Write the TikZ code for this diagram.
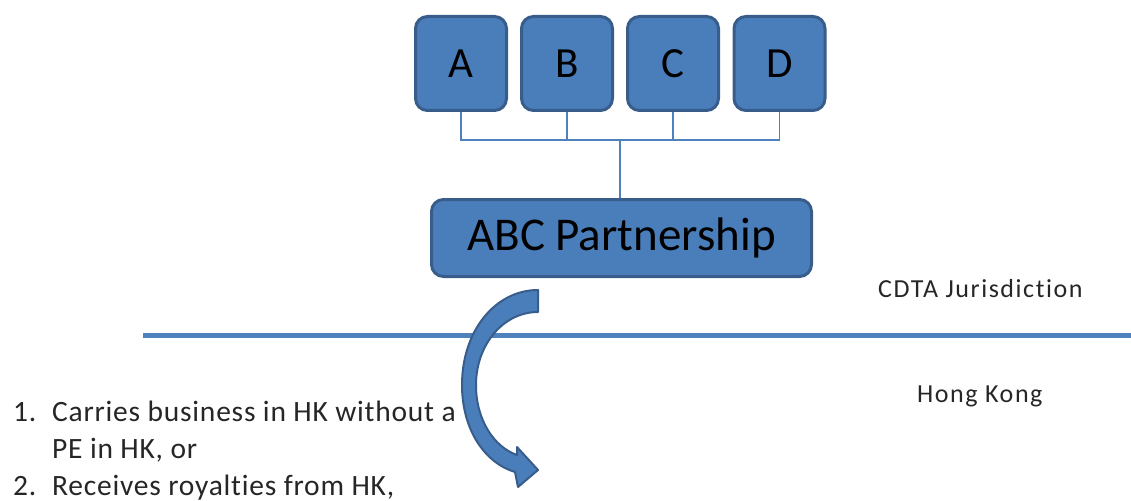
\documentclass[tikz,border=0pt]{standalone}
\usepackage{fontspec}
\setmainfont{Carlito}
\newfontfamily\listfont[LetterSpace=2.6,Ligatures=NoCommon]{Carlito}
\newfontfamily\tagfont[LetterSpace=6,Ligatures=NoCommon]{Carlito}
\definecolor{boxfill}{HTML}{4A7EBB}
\definecolor{boxline}{HTML}{385D8A}
\definecolor{linkblue}{HTML}{4F81BD}
\definecolor{txt}{HTML}{262626}
\begin{document}
\begin{tikzpicture}[x=1pt,y=-1pt,
  member/.style={draw=boxline,line width=3pt,fill=boxfill,rounded corners=12pt,minimum width=91pt,minimum height=94pt,inner sep=0pt,font=\fontsize{43}{43}\selectfont},
  partner/.style={draw=boxline,line width=3pt,fill=boxfill,rounded corners=12pt,minimum width=380pt,minimum height=77pt,inner sep=0pt,font=\fontsize{47}{47}\selectfont},
  link/.style={draw=linkblue,line width=1.6pt},
  label/.style={inner sep=0pt,anchor=base west,text=txt,font=\tagfont\fontsize{26}{26}\selectfont},
  item/.style={inner sep=0pt,anchor=base west,text=txt,font=\listfont\fontsize{29.5}{29.5}\selectfont},
  bigarrow/.style={fill=boxfill,draw=boxline,line width=2pt,line join=round}]
\useasboundingbox (0,0) rectangle (1131,500);
% member boxes
\node[member] (A) at (461,63.5) {A};
\node[member] (B) at (567,63.5) {B};
\node[member] (C) at (673,63.5) {C};
\node[member] (D) at (779.5,63.5) {D};
\node[partner] (P) at (621.5,238) {ABC Partnership};
% connectors
\coordinate (j) at (620,140);
\draw[link] (A.south) |- (j);
\draw[link] (B.south) |- (j);
\draw[link] (C.south) |- (j);
\draw[link] (D.south) |- (j);
\draw[link] (j) -- (j |- P.north);
% boundary line
\coordinate (L1) at (143,335.5);
\coordinate (L2) at (1131,335.5);
\draw[draw=linkblue,line width=4.5pt] (L1) -- (L2);
% labels
\node[label] (cdta) at (878,297) {CDTA Jurisdiction};
\node[label] (hk) at (917,402) {Hong Kong};
\node[item] (n1) at (13,421.5) {1.};
\node[item] (t1) at (52,421.5) {Carries business in HK without a};
\node[item] (t1b) at (52,458) {PE in HK, or};
\node[item] (n2) at (13,495) {2.};
\node[item] (t2) at (52,495) {Receives royalties from HK,};
% curved arrow
\path[bigarrow] (538,290) .. controls (496,290) and (462,330) .. (462,385)
  .. controls (462,430) and (485,463) .. (515,472)
  -- (518,487) -- (538,470) -- (517,447) -- (517,455)
  .. controls (494,447) and (476,420) .. (476,385)
  .. controls (476,345) and (503,312) .. (538,312) -- cycle;
\end{tikzpicture}
\end{document}
